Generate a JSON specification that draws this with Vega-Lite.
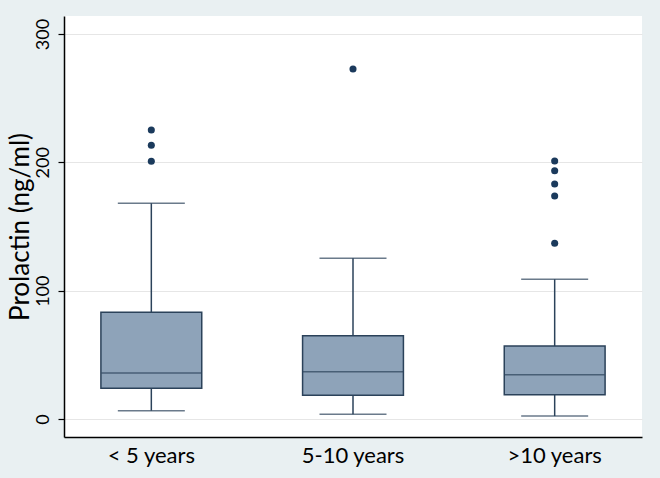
{
  "$schema": "https://vega.github.io/schema/vega-lite/v6.json",
  "width": 578,
  "height": 421,
  "autosize": {"type": "none"},
  "padding": {"left": 64, "top": 16, "right": 18, "bottom": 41},
  "background": "#e9f0f2",
  "config": {"view": {"fill": "white", "stroke": null}, "font": "Lato"},
  "datasets": {
    "boxes": [
      {"group": "< 5 years", "lower": 6.5, "q1": 23.9, "median": 35.8, "q3": 83.1, "upper": 168.1},
      {"group": "5-10 years", "lower": 3.7, "q1": 18.5, "median": 36.9, "q3": 64.9, "upper": 125.2},
      {"group": ">10 years", "lower": 2.3, "q1": 18.9, "median": 34.5, "q3": 56.9, "upper": 108.9}
    ],
    "outliers": [
      {"group": "< 5 years", "value": 225.2},
      {"group": "< 5 years", "value": 213.3},
      {"group": "< 5 years", "value": 200.8},
      {"group": "5-10 years", "value": 272.7},
      {"group": ">10 years", "value": 201.0},
      {"group": ">10 years", "value": 193.5},
      {"group": ">10 years", "value": 183.1},
      {"group": ">10 years", "value": 173.8},
      {"group": ">10 years", "value": 136.9}
    ]
  },
  "encoding": {
    "x": {
      "field": "group",
      "type": "nominal",
      "sort": ["< 5 years", "5-10 years", ">10 years"],
      "scale": {"paddingInner": 0.5, "paddingOuter": 0.183},
      "axis": {
        "title": null,
        "ticks": false,
        "labelAngle": 0,
        "labelFontSize": 22,
        "labelColor": "#000000",
        "labelPadding": 8,
        "domainColor": "#000000",
        "domainWidth": 1.5,
        "grid": false
      }
    }
  },
  "layer": [
    {
      "data": {"name": "boxes"},
      "mark": {"type": "rule", "color": "#2b425a", "strokeWidth": 1.5},
      "encoding": {
        "y": {
          "field": "lower",
          "type": "quantitative",
          "scale": {"domain": [-14, 314], "nice": false, "zero": false},
          "axis": {
            "title": "Prolactin (ng/ml)",
            "titleFontSize": 26,
            "titleFontWeight": "normal",
            "titleColor": "#000000",
            "titlePadding": 1,
            "values": [0, 100, 200, 300],
            "grid": true,
            "gridColor": "#e6e6e6",
            "gridWidth": 1,
            "domainColor": "#000000",
            "domainWidth": 1.5,
            "tickColor": "#000000",
            "tickSize": 6,
            "tickWidth": 1.2,
            "labelAngle": -90,
            "labelAlign": "center",
            "labelBaseline": "bottom",
            "labelPadding": 6,
            "labelFontSize": 18,
            "labelColor": "#000000"
          }
        },
        "y2": {"field": "upper"}
      }
    },
    {
      "data": {"name": "boxes"},
      "mark": {"type": "bar", "fill": "#8ea3b9", "stroke": "#2b425a", "strokeWidth": 1.5},
      "encoding": {
        "y": {"field": "q1", "type": "quantitative"},
        "y2": {"field": "q3"}
      }
    },
    {
      "data": {"name": "boxes"},
      "mark": {"type": "tick", "color": "#2b425a", "size": 100, "thickness": 1.5},
      "encoding": {"y": {"field": "median", "type": "quantitative"}}
    },
    {
      "data": {"name": "boxes"},
      "mark": {"type": "tick", "color": "#2b425a", "size": 67, "thickness": 1.5},
      "encoding": {"y": {"field": "lower", "type": "quantitative"}}
    },
    {
      "data": {"name": "boxes"},
      "mark": {"type": "tick", "color": "#2b425a", "size": 67, "thickness": 1.5},
      "encoding": {"y": {"field": "upper", "type": "quantitative"}}
    },
    {
      "data": {"name": "outliers"},
      "mark": {"type": "point", "filled": true, "color": "#1b3a5c", "opacity": 1, "size": 50},
      "encoding": {"y": {"field": "value", "type": "quantitative"}}
    }
  ]
}
